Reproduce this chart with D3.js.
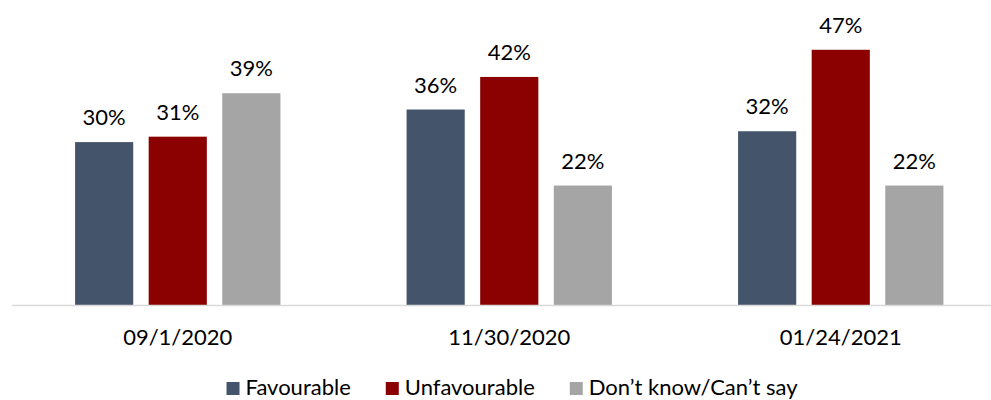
<!DOCTYPE html>
<html>
<head>
<meta charset="utf-8">
<script src="https://cdn.jsdelivr.net/npm/d3@7"></script>
<style>
  html, body { margin: 0; padding: 0; background: #fff; }
  svg { display: block; }
  text { font-family: Lato, "Open Sans", sans-serif; fill: #000; }
</style>
</head>
<body>
<svg id="chart" width="991" height="400"></svg>
<script>
const categories = ["09/1/2020", "11/30/2020", "01/24/2021"];
const seriesNames = ["Favourable", "Unfavourable", "Don\u2019t know/Can\u2019t say"];
const favourable = [30, 36, 32];
const unfavourable = [31, 42, 47];
const dontKnow = [39, 22, 22];
const seriesValues = [favourable, unfavourable, dontKnow];
const colors = ["#44546a", "#8b0000", "#a5a5a5"];

const svg = d3.select("#chart");
const W = 991, H = 400;
const baseY = 305;
const fontSize = 22;

const x0 = d3.scaleBand().domain(categories).range([12, 1006.5]).padding(0);
const x1 = d3.scaleBand().domain(seriesNames).range([0, x0.bandwidth()])
  .paddingInner(0.21).paddingOuter(0.857);
const y = d3.scaleLinear().domain([0, 50]).range([baseY, baseY - 271.5]);

const data = [];
categories.forEach((c, ci) => {
  seriesNames.forEach((s, si) => {
    data.push({ cat: c, series: s, si, value: seriesValues[si][ci] });
  });
});

// bars
svg.append("g").selectAll("rect").data(data).join("rect")
  .attr("x", d => x0(d.cat) + x1(d.series))
  .attr("y", d => y(d.value))
  .attr("width", x1.bandwidth())
  .attr("height", d => y(0) - y(d.value))
  .attr("fill", d => colors[d.si]);

// value labels
svg.append("g").selectAll("text").data(data).join("text")
  .attr("x", d => x0(d.cat) + x1(d.series) + x1.bandwidth() / 2)
  .attr("y", d => y(d.value) - 17)
  .attr("text-anchor", "middle")
  .attr("font-size", fontSize)
  .text(d => d.value + "%");

// axis
const axis = d3.axisBottom(x0).tickSize(0).tickPadding(0);
const gAxis = svg.append("g").attr("transform", `translate(0,${baseY})`).call(axis);
gAxis.select(".domain").remove();
gAxis.append("line").attr("x1", 12).attr("x2", W).attr("y1", 0.5).attr("y2", 0.5)
  .attr("stroke", "#d9d9d9").attr("stroke-width", 1.5);
gAxis.selectAll(".tick text")
  .attr("font-size", fontSize)
  .attr("font-family", "Lato, 'Open Sans', sans-serif")
  .attr("fill", "#000")
  .attr("dy", null)
  .attr("y", 40);

// legend
const legend = svg.append("g");
const items = legend.selectAll("g").data(seriesNames).join("g");
items.append("rect").attr("width", 13).attr("height", 13).attr("y", 382)
  .attr("fill", (d, i) => colors[i]);
items.append("text").attr("x", 19).attr("y", 395).attr("font-size", fontSize).text(d => d);
const widths = [];
items.each(function () {
  const tw = d3.select(this).select("text").node().getComputedTextLength();
  widths.push(19 + tw);
});
const gap = 35;
const total = d3.sum(widths) + gap * (widths.length - 1);
let start = 512 - total / 2;
items.attr("transform", (d, i) => {
  const t = `translate(${start},0)`;
  start += widths[i] + gap;
  return t;
});
</script>
</body>
</html>
